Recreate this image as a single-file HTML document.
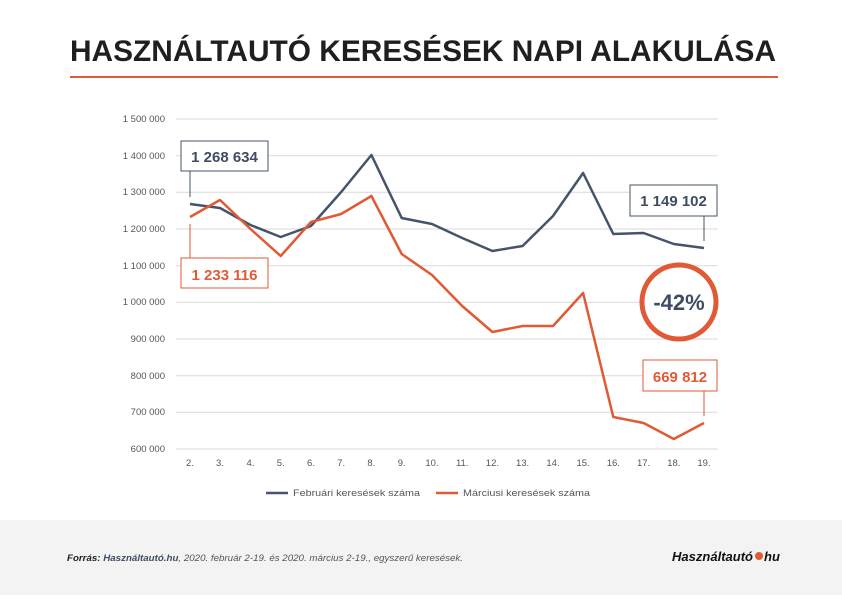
<!DOCTYPE html>
<html><head><meta charset="utf-8"><style>
body{margin:0;width:842px;height:595px;background:#fff;overflow:hidden;font-family:"Liberation Sans",sans-serif}
</style></head><body>
<svg width="842" height="595" xmlns="http://www.w3.org/2000/svg" font-family="Liberation Sans, sans-serif">
<text x="70" y="61" textLength="706" lengthAdjust="spacingAndGlyphs" font-size="30" font-weight="bold" fill="#1f1f1f">HASZNÁLTAUTÓ KERESÉSEK NAPI ALAKULÁSA</text>
<line x1="70" y1="77" x2="778" y2="77" stroke="#e05a35" stroke-width="2"/>
<g stroke="#d9d9d9" stroke-width="1">
<line x1="176" x2="718" y1="119" y2="119"/><line x1="176" x2="718" y1="155.7" y2="155.7"/>
<line x1="176" x2="718" y1="192.3" y2="192.3"/><line x1="176" x2="718" y1="229" y2="229"/>
<line x1="176" x2="718" y1="265.7" y2="265.7"/><line x1="176" x2="718" y1="302.3" y2="302.3"/>
<line x1="176" x2="718" y1="339" y2="339"/><line x1="176" x2="718" y1="375.7" y2="375.7"/>
<line x1="176" x2="718" y1="412.3" y2="412.3"/><line x1="176" x2="718" y1="449" y2="449"/>
</g>
<g font-size="9.5" fill="#555" text-anchor="end">
<text x="165" y="122">1 500 000</text><text x="165" y="159">1 400 000</text><text x="165" y="195">1 300 000</text>
<text x="165" y="232">1 200 000</text><text x="165" y="269">1 100 000</text><text x="165" y="305">1 000 000</text>
<text x="165" y="342">900 000</text><text x="165" y="379">800 000</text><text x="165" y="415">700 000</text><text x="165" y="452">600 000</text>
</g>
<g font-size="9.5" fill="#555" text-anchor="middle">
<text x="190" y="466">2.</text><text x="220" y="466">3.</text><text x="250.5" y="466">4.</text><text x="280.7" y="466">5.</text>
<text x="311" y="466">6.</text><text x="341.2" y="466">7.</text><text x="371.4" y="466">8.</text><text x="401.7" y="466">9.</text>
<text x="432" y="466">10.</text><text x="462.2" y="466">11.</text><text x="492.4" y="466">12.</text><text x="522.6" y="466">13.</text>
<text x="553" y="466">14.</text><text x="583.1" y="466">15.</text><text x="613.3" y="466">16.</text><text x="643.6" y="466">17.</text>
<text x="673.8" y="466">18.</text><text x="704" y="466">19.</text>
</g>
<polyline fill="none" stroke="#45546a" stroke-width="2.5" stroke-linejoin="round" points="190,204 220,208 250.5,225 280.7,237 311,226 341.2,192 371.4,155 401.7,218 432,224 462.2,238 492.4,251 522.6,246 553,216 583.1,173 613.3,234 643.6,233 673.8,244 704,248"/>
<polyline fill="none" stroke="#e05a35" stroke-width="2.5" stroke-linejoin="round" points="190,217 220,200 250.5,229 280.7,256 311,222 341.2,214 371.4,196 401.7,254 432,275 462.2,306 492.4,332 522.6,326 553,326 583.1,293 613.3,417 643.6,423 673.8,439 704,423"/>
<line x1="190" y1="171" x2="190" y2="197" stroke="#45546a"/>
<rect x="181" y="141" width="87" height="30" fill="#fff" stroke="#45546a"/>
<text x="224.5" y="162" text-anchor="middle" font-size="15" font-weight="bold" fill="#3f4d62">1 268 634</text>
<line x1="190" y1="224" x2="190" y2="258" stroke="#e05a35"/>
<rect x="181" y="258" width="87" height="30" fill="#fff" stroke="#e05a35"/>
<text x="224.5" y="280" text-anchor="middle" font-size="15" font-weight="bold" fill="#e05a35">1 233 116</text>
<line x1="704" y1="216" x2="704" y2="241" stroke="#45546a"/>
<rect x="630" y="185" width="87" height="31" fill="#fff" stroke="#45546a"/>
<text x="673.5" y="206" text-anchor="middle" font-size="15" font-weight="bold" fill="#3f4d62">1 149 102</text>
<line x1="704" y1="391" x2="704" y2="416" stroke="#e05a35"/>
<rect x="643" y="360" width="74" height="31" fill="#fff" stroke="#e05a35"/>
<text x="680" y="382" text-anchor="middle" font-size="15" font-weight="bold" fill="#e05a35">669 812</text>
<circle cx="679" cy="302" r="37" fill="#fff" stroke="#e05a35" stroke-width="5"/>
<text x="679" y="310" text-anchor="middle" font-size="22" font-weight="bold" fill="#3f4d62">-42%</text>
<line x1="266" y1="493" x2="288" y2="493" stroke="#45546a" stroke-width="2.5"/>
<text x="293" y="496" font-size="9.5" fill="#555" textLength="127" lengthAdjust="spacingAndGlyphs">Februári keresések száma</text>
<line x1="436" y1="493" x2="458" y2="493" stroke="#e05a35" stroke-width="2.5"/>
<text x="463" y="496" font-size="9.5" fill="#555" textLength="127" lengthAdjust="spacingAndGlyphs">Márciusi keresések száma</text>
<rect x="0" y="520" width="842" height="75" fill="#f3f3f3"/>
<text x="67" y="561" font-size="9" font-style="italic" fill="#555" textLength="396" lengthAdjust="spacingAndGlyphs"><tspan font-weight="bold" fill="#222">Forrás: </tspan><tspan font-weight="bold" fill="#3f4d62">Használtautó.hu</tspan>, 2020. február 2-19. és 2020. március 2-19., egyszerű keresések.</text>
<text x="672" y="561" font-size="13" font-weight="bold" font-style="italic" fill="#111" textLength="81" lengthAdjust="spacingAndGlyphs">Használtautó</text>
<circle cx="759" cy="556" r="4" fill="#e05a35"/>
<text x="764" y="561" font-size="13" font-weight="bold" font-style="italic" fill="#111">hu</text>
</svg>
</body></html>
